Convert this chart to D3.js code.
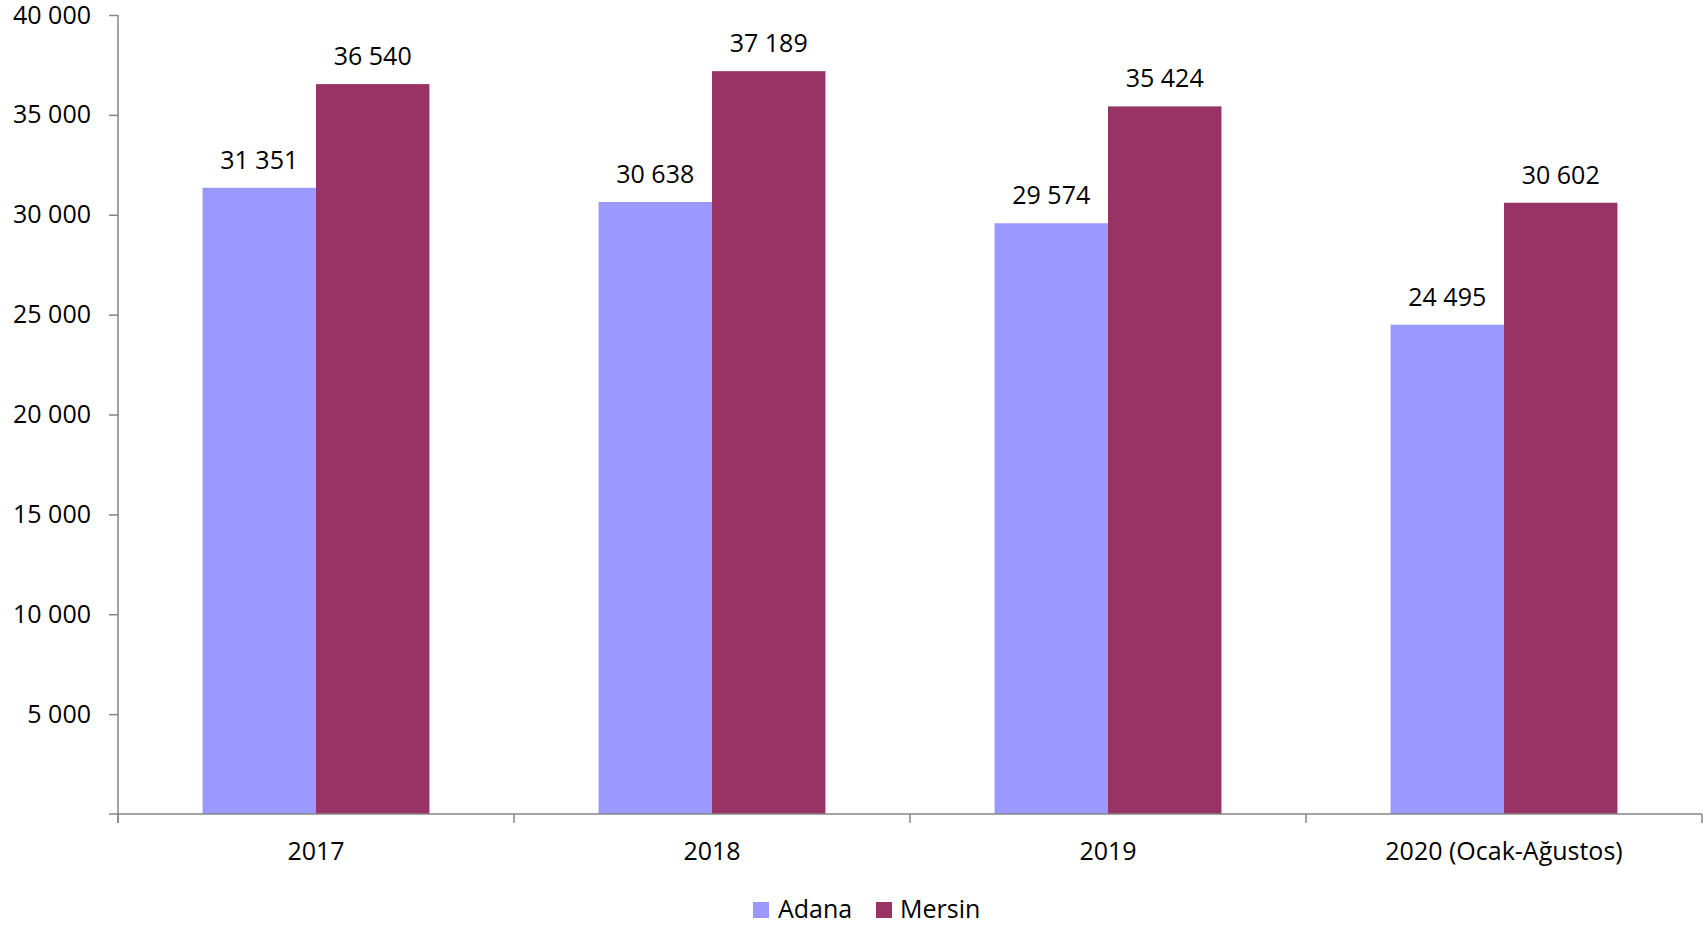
<!DOCTYPE html>
<html><head><meta charset="utf-8">
<script src="https://cdn.jsdelivr.net/npm/d3@7"></script>
<style>
html,body{margin:0;padding:0;background:#fff;}
text{font-family:"Open Sans",sans-serif;fill:#000;}
</style></head>
<body><svg id="chart" width="1703" height="926"></svg>
<script>
const categories = ["2017", "2018", "2019", "2020 (Ocak-Ağustos)"];
const seriesNames = ["Adana", "Mersin"];
const adana = [31351, 30638, 29574, 24495];
const mersin = [36540, 37189, 35424, 30602];
const colors = ["#9999FF", "#993366"];
const yTicks = [5000, 10000, 15000, 20000, 25000, 30000, 35000, 40000];

(function () {
const svg = d3.select("#chart");
const mLeft = 118, mRight = 1702, mTop = 15, mBottom = 814;
const fs = 25;
const font = '"Open Sans",sans-serif';
const fmt = v => d3.format(",")(v).replace(/,/g, " ");

const x = d3.scaleBand().domain(categories).range([mLeft, mRight]).paddingInner(0.427).paddingOuter(0.2135);
const xs = d3.scaleBand().domain(seriesNames).range([0, x.bandwidth()]);
const y = d3.scaleLinear().domain([0, 40000]).range([mBottom, mTop]);

const data = categories.map((c, i) => ({cat: c, vals: [adana[i], mersin[i]]}));

const g = svg.append("g");
data.forEach(d => {
  d.vals.forEach((v, j) => {
    const bx = x(d.cat) + xs(seriesNames[j]);
    g.append("rect").attr("x", bx).attr("y", y(v)).attr("width", xs.bandwidth()).attr("height", y(0) - y(v)).attr("fill", colors[j]);
    g.append("text").attr("x", bx + xs.bandwidth() / 2).attr("y", y(v) - 19).attr("text-anchor", "middle").attr("font-size", fs).text(fmt(v));
  });
});

const axisColor = "#868686";
const yAxis = svg.append("g").attr("transform", `translate(${mLeft},0)`)
  .call(d3.axisLeft(y).tickValues(yTicks).tickSize(9).tickPadding(18).tickFormat(fmt));
yAxis.select(".domain").remove();
yAxis.selectAll("line").attr("stroke", axisColor).attr("stroke-width", 1.5);
yAxis.selectAll("text").attr("font-size", fs).attr("font-family", font).attr("fill", "#000");
svg.append("line").attr("x1", mLeft).attr("x2", mLeft).attr("y1", y(40000)).attr("y2", mBottom + 9).attr("stroke", axisColor).attr("stroke-width", 1.5);

svg.append("line").attr("x1", mLeft - 9).attr("x2", mRight).attr("y1", mBottom).attr("y2", mBottom).attr("stroke", axisColor).attr("stroke-width", 1.5);
const boundaries = categories.map(c => x(c) - x.step() * x.paddingOuter()).concat([mRight]);
boundaries.forEach(b => {
  svg.append("line").attr("x1", b).attr("x2", b).attr("y1", mBottom).attr("y2", mBottom + 9).attr("stroke", axisColor).attr("stroke-width", 1.5);
});
categories.forEach(c => {
  svg.append("text").attr("x", x(c) + x.bandwidth() / 2).attr("y", 860).attr("text-anchor", "middle").attr("font-size", fs).text(c);
});

const legend = [{name: "Adana", sx: 753, tx: 778}, {name: "Mersin", sx: 876, tx: 900}];
legend.forEach((l, i) => {
  svg.append("rect").attr("x", l.sx).attr("y", 902).attr("width", 16).attr("height", 16).attr("fill", colors[i]);
  svg.append("text").attr("x", l.tx).attr("y", 918).attr("font-size", fs).text(l.name);
});
})();
</script></body></html>
